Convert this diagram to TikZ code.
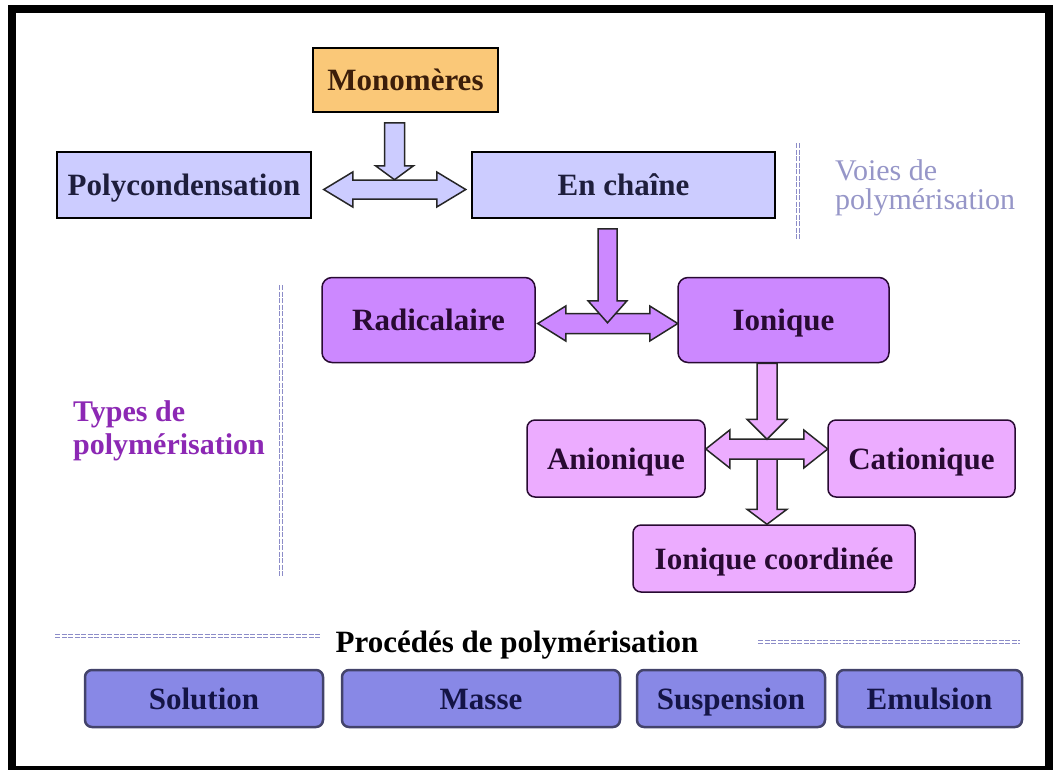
\documentclass[tikz,border=0pt]{standalone}
\usepackage{fontspec}
\setmainfont{Liberation Serif}
\usepackage{xcolor}
\usetikzlibrary{calc}
\definecolor{monofill}{RGB}{250,200,120}
\definecolor{monotext}{RGB}{60,30,10}
\definecolor{voiefill}{RGB}{204,204,255}
\definecolor{voietext}{RGB}{30,30,60}
\definecolor{typefill}{RGB}{204,136,255}
\definecolor{ionfill}{RGB}{236,172,255}
\definecolor{typetext}{RGB}{40,10,50}
\definecolor{procfill}{RGB}{136,136,230}
\definecolor{proctext}{RGB}{20,20,70}
\definecolor{voielabel}{RGB}{150,150,200}
\definecolor{typelabel}{RGB}{140,40,180}
\definecolor{sepcol}{RGB}{140,140,200}
\tikzset{
	box/.style={draw=black, line width=1.5pt, inner sep=0pt, text height=25pt, text depth=4pt,
			font=\fontsize{31}{36}\selectfont\bfseries},
	voiebox/.style={box, fill=voiefill, text=voietext, minimum height=66pt},
	typebox/.style={box, rounded corners=10pt, draw=typetext, fill=typefill, text=typetext, minimum height=85pt},
	ionbox/.style={box, rounded corners=8pt, draw=typetext, fill=ionfill, text=typetext},
	procbox/.style={box, rounded corners=7pt, line width=2.5pt, draw=proctext!80, fill=procfill, text=proctext, minimum height=57pt},
	blockarrow/.style={draw=black!85, line width=1.5pt},
	sepline/.style={draw=sepcol, line width=1pt, double, double distance=1.2pt, dash pattern=on 5pt off 1.5pt}
}
\begin{document}
\begin{tikzpicture}[x=1pt,y=-1pt]
	\useasboundingbox (0,0) rectangle (1054,769);
	\fill[white] (0,0) rectangle (1054,769);
	\draw[line width=8pt] (12,9) rectangle (1049,770);

	% voies de polymerisation
	\node[box, fill=monofill, text=monotext, minimum width=185pt, minimum height=64pt] (mono) at (405.5,80) {Monomères};
	\node[voiebox, minimum width=254pt] (poly) at (184,185) {Polycondensation};
	\node[voiebox, minimum width=303pt] (chaine) at (623.5,185) {En chaîne};

	% types de polymerisation
	\node[typebox, minimum width=213pt] (rad) at (428.5,320) {Radicalaire};
	\node[typebox, minimum width=211pt] (ion) at (783.5,320) {Ionique};
	\node[ionbox, minimum width=178pt, minimum height=77pt] (anion) at (616,458.5) {Anionique};
	\node[ionbox, minimum width=187pt, minimum height=77pt] (cation) at (921.5,458.5) {Cationique};
	\node[ionbox, minimum width=282pt, minimum height=67pt] (coord) at (774,558.5) {Ionique coordinée};

	% procedes
	\node[font=\fontsize{31}{36}\selectfont\bfseries, inner sep=0pt, text height=25pt, text depth=4pt] (proc) at (517,642) {Procédés de polymérisation};
	\node[procbox, minimum width=238pt] (sol) at (204,698.5) {Solution};
	\node[procbox, minimum width=278pt] (masse) at (481,698.5) {Masse};
	\node[procbox, minimum width=188pt] (susp) at (731,698.5) {Suspension};
	\node[procbox, minimum width=185pt] (emul) at (929.5,698.5) {Emulsion};

	% labels
	\node[anchor=west, align=left, inner sep=0pt, text=voielabel,
		font=\fontsize{30}{29}\selectfont] (voies) at (835,188) {Voies de\\polymérisation};
	\node[anchor=west, align=left, inner sep=0pt, text=typelabel,
		font=\fontsize{30}{33}\selectfont\bfseries] (types) at (73,431) {Types de\\polymérisation};

	\draw[sepline] (798,143) -- (798,240);
	\draw[sepline] (281,285) -- (281,577);
	\draw[sepline] (55,636) -- (320,636);
	\draw[sepline] (758,642) -- (1020,642);

	% fleches
	\filldraw[blockarrow, fill=voiefill] (poly.east) ++(12,4.5) -- ++(29,-17.5) -- ++(0,8) -- ++(84,0)
		-- ++(0,-8) -- ++(29,17.5) -- ++(-29,17.5) -- ++(0,-8) -- ++(-84,0) -- ++(0,8) -- cycle;
	\filldraw[blockarrow, fill=voiefill] (mono.south) ++(-21,10) -- ++(0,43) -- ++(-9,0) -- ++(19,14)
		-- ++(19,-14) -- ++(-9,0) -- ++(0,-43) -- cycle;

	\filldraw[blockarrow, fill=typefill] (rad.east) ++(2,3.5) -- ++(28,-17.5) -- ++(0,7.5) -- ++(84,0)
		-- ++(0,-7.5) -- ++(28,17.5) -- ++(-28,17.5) -- ++(0,-7.5) -- ++(-84,0) -- ++(0,7.5) -- cycle;
	\filldraw[blockarrow, fill=typefill] (chaine.south) ++(-25.5,10) -- ++(0,72) -- ++(-10,0) -- ++(19.5,22)
		-- ++(19.5,-22) -- ++(-10,0) -- ++(0,-72) -- cycle;

	\filldraw[blockarrow, fill=ionfill] (coord.north) ++(-17,-80) -- ++(0,65) -- ++(-10,0) -- ++(20,15)
		-- ++(20,-15) -- ++(-10,0) -- ++(0,-65) -- cycle;
	\filldraw[blockarrow, fill=ionfill] (anion.east) ++(0,-9.5) -- ++(24,-19) -- ++(0,9) -- ++(74,0)
		-- ++(0,-9) -- ++(24,19) -- ++(-24,19) -- ++(0,-9) -- ++(-74,0) -- ++(0,9) -- cycle;
	\filldraw[blockarrow, fill=ionfill] (ion.south) ++(-26.5,0) -- ++(0,56) -- ++(-10,0) -- ++(20,20)
		-- ++(20,-20) -- ++(-10,0) -- ++(0,-56) -- cycle;
\end{tikzpicture}
\end{document}
